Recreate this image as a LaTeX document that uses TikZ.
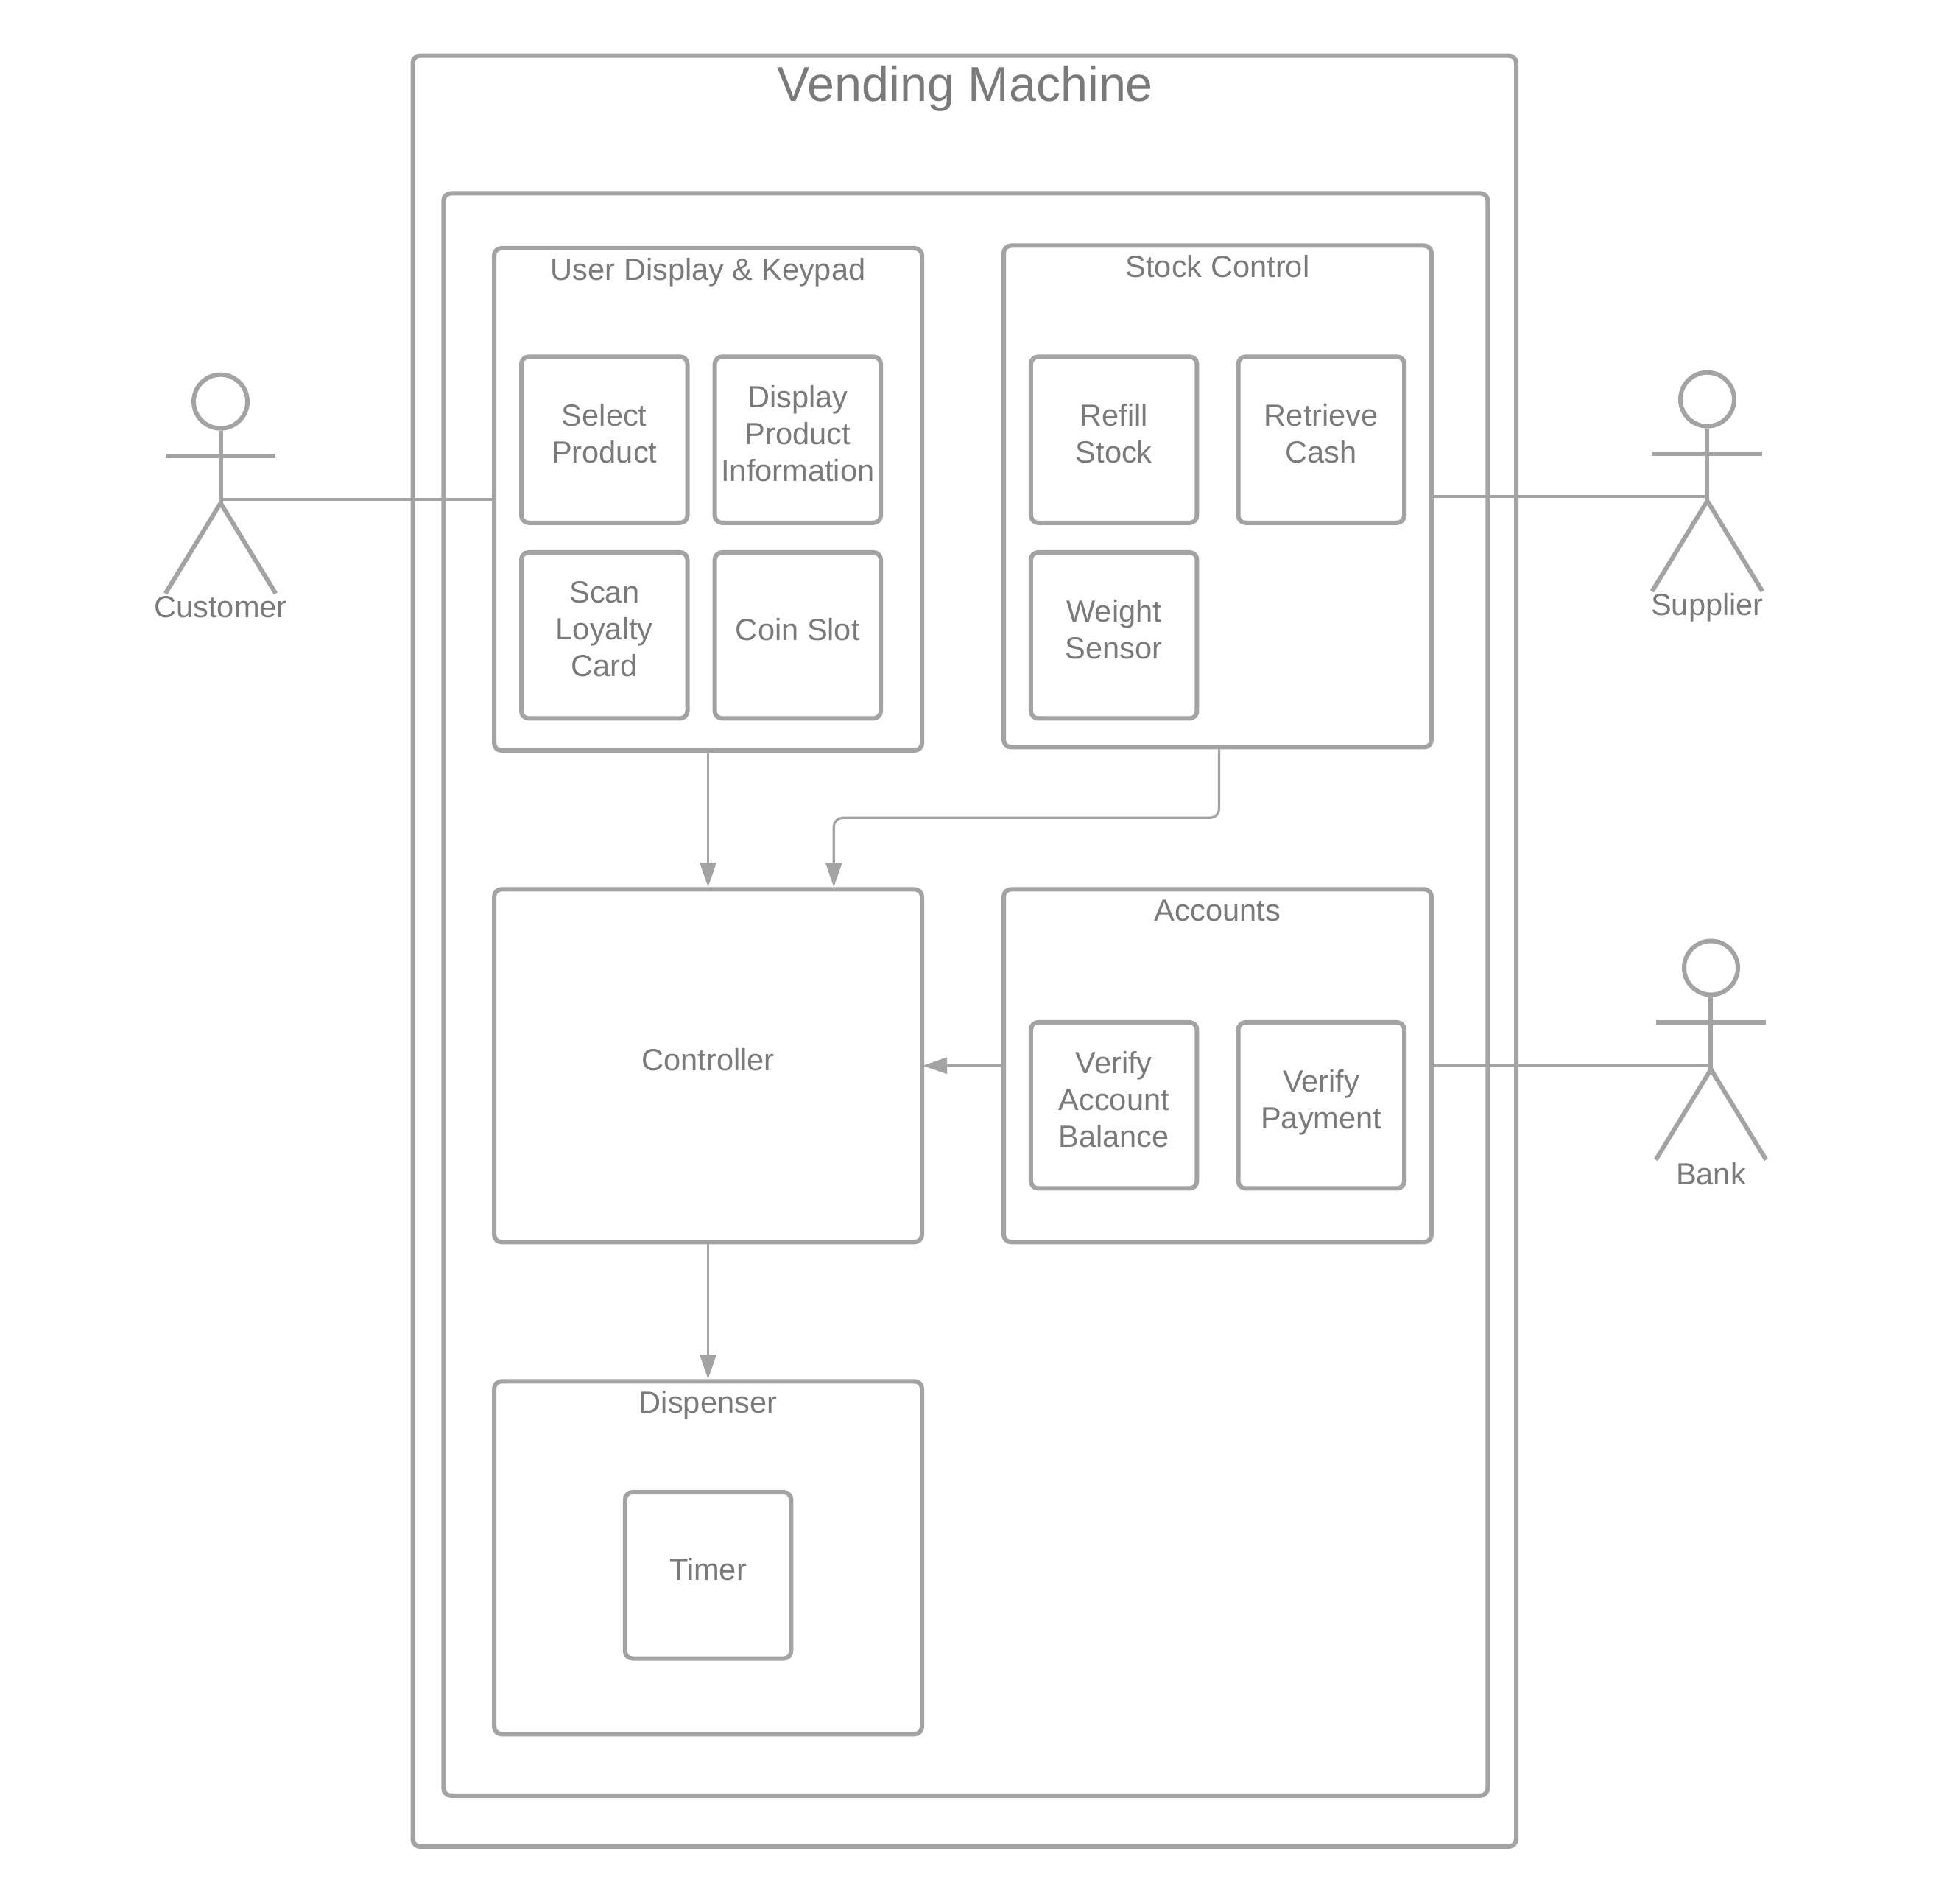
\documentclass[tikz,border=0pt]{standalone}
\usepackage{fontspec}
\setmainfont{Liberation Sans}
\usetikzlibrary{arrows.meta}
\definecolor{ln}{HTML}{A3A3A3}
\definecolor{tx}{HTML}{7A7A7A}
\tikzset{
  bx/.style={draw=ln,line width=6pt,rounded corners=10pt,inner sep=0pt,minimum width=#1},
  small/.style={bx=225.5pt,minimum height=225.5pt},
  mid/.style={bx=581pt,minimum height=479pt},
  txt/.style={text=tx,align=center,font=\fontsize{41.6pt}{50pt}\selectfont,inner sep=0pt},
  boxtxt/.style={txt,yshift=8.5pt},
  conn/.style={draw=ln,line width=3.3pt},
  arr/.style={conn,-{Triangle[length=33pt,width=22pt,color=ln]}},
  limb/.style={draw=ln,line width=6pt},
  headc/.style={circle,draw=ln,line width=6pt,minimum size=73pt,inner sep=0pt},
}
\newcommand{\stickman}[5]{%
  \node[headc] (#1head) at (#2,#3) {};
  \coordinate (#1hip) at (#2,#3+138);
  \coordinate (#1la) at (#2-75,#3+74);
  \coordinate (#1ra) at (#2+75,#3+74);
  \coordinate (#1lf) at (#2-75,#3+261);
  \coordinate (#1rf) at (#2+75,#3+261);
  \draw[limb] (#1head.south) -- (#1hip);
  \draw[limb] (#1la) -- (#1ra);
  \draw[limb] (#1lf) -- (#1hip) -- (#1rf);
  \node[txt] (#1label) at (#2,#3+#5) {#4};
}
\begin{document}
\begin{tikzpicture}[x=0.9985pt,y=-0.9985pt]
\useasboundingbox (0,0) rectangle (2629,2588);
\node[bx=1498.5pt,minimum height=2431.5pt] (outer) at (1311.75,1293.2) {};
\node[bx=1418pt,minimum height=2175.5pt] (panel) at (1313.3,1352.2) {};
\node[txt,font=\fontsize{66.5pt}{78pt}\selectfont] (title) at (1313,120) {Vending Machine};

\node[bx=581pt,minimum height=682pt] (user) at (963,679) {};
\node[txt] (usert) at (963,370) {User Display \& Keypad};
\node[small,label={[boxtxt]center:{Select\\Product}}] (select) at (822,598) {};
\node[small,label={[boxtxt]center:{Display\\Product\\Information}}] (display) at (1085,598) {};
\node[small,label={[boxtxt]center:{Scan\\Loyalty\\Card}}] (scan) at (822,864) {};
\node[small,label={[boxtxt]center:{Coin Slot}}] (coin) at (1085,864) {};

\node[bx=581pt,minimum height=681pt] (stock) at (1656,675) {};
\node[txt] (stockt) at (1656,362) {Stock Control};
\node[small,label={[boxtxt]center:{Refill\\Stock}}] (refill) at (1515,598) {};
\node[small,label={[boxtxt]center:{Retrieve\\Cash}}] (retrieve) at (1797,598) {};
\node[small,label={[boxtxt]center:{Weight\\Sensor}}] (weight) at (1515,864) {};

\node[mid,label={[boxtxt]center:{Controller}}] (controller) at (963,1449) {};

\node[mid] (accounts) at (1656,1449) {};
\node[txt] (accountst) at (1656,1238) {Accounts};
\node[small,label={[boxtxt]center:{Verify\\Account\\Balance}}] (vacc) at (1515,1503) {};
\node[small,label={[boxtxt,yshift=-5pt]center:{Verify\\Payment}}] (vpay) at (1797,1503) {};

\node[mid] (dispenser) at (963,2118) {};
\node[txt] (dispensert) at (963,1910.5) {Dispenser};
\node[small,label={[boxtxt]center:{Timer}}] (timer) at (963,2142) {};

\stickman{cust}{300}{546}{Customer}{279}
\stickman{supp}{2322}{543}{Supplier}{283}
\stickman{bank}{2327}{1316}{Bank}{280}

\coordinate (custc) at (300,679);
\coordinate (suppc) at (2322,675);
\coordinate (bankc) at (2327,1449);
\coordinate (stockout) at ([xshift=2pt]stock.south);
\coordinate (stockel) at (stockout |- 0,1112);
\coordinate (ctrlel) at (1134,1112);
\coordinate (ctrlin) at (1134,1206);

\draw[conn] (custc) -- (user.west);
\draw[conn] (stock.east) -- (suppc);
\draw[conn] (accounts.east) -- (bankc);
\draw[arr] (user.south) -- (controller.north);
\draw[arr,rounded corners=12pt] (stockout) -- (stockel) -- (ctrlel) -- (ctrlin);
\draw[arr,shorten >=-2pt] (accounts.west) -- (controller.east);
\draw[arr] (controller.south) -- (dispenser.north);
\end{tikzpicture}
\end{document}
